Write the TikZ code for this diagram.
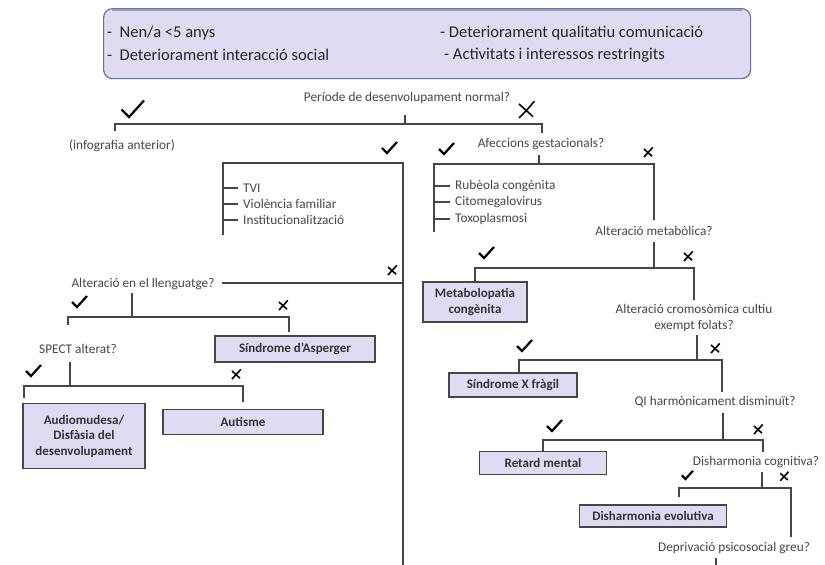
\documentclass[tikz,border=0pt]{standalone}
\usepackage{fontspec}
\setmainfont{Carlito}
\definecolor{lav}{RGB}{222,220,242}
\definecolor{lavborder}{RGB}{110,115,150}
\definecolor{txt}{RGB}{70,70,70}
\definecolor{ln}{RGB}{70,70,70}
\begin{document}
\begin{tikzpicture}[x=1pt,y=-1pt,
  q/.style={text=txt,font=\fontsize{13.3}{15.5}\selectfont,inner sep=0pt,align=center},
  item/.style={text=txt,font=\fontsize{13.3}{15.5}\selectfont,inner sep=0pt,anchor=west},
  res/.style={draw=ln,line width=1.2pt,fill=lav,font=\bfseries\fontsize{13}{15.5}\selectfont,text=black!80,align=center,inner sep=2pt},
  br/.style={draw=ln,line width=1.4pt},
  ttl/.style={anchor=west,font=\fontsize{16.5}{19}\selectfont,text=black!85,inner sep=0pt},
  chk/.pic={\draw[line width=2.2pt,line join=miter,black] (-7,-1) -- (-2,4) -- (8,-7);},
  crs/.pic={\draw[line width=1.6pt,black] (-5,-5) -- (5,4); \draw[line width=1.6pt,black] (-5,5) .. controls (0,0) .. (6,-7);}
]
\useasboundingbox (0,0) rectangle (825,565);
% top box
\node[draw=lavborder,line width=1.2pt,fill=lav,rounded corners=9pt,minimum width=647pt,minimum height=70pt,anchor=north west] (top) at (103,8) {};
\draw[lavborder!70,line width=2pt] ([xshift=9pt,yshift=-1.5pt]top.north west) -- ([xshift=-9pt,yshift=-1.5pt]top.north east);
\node[ttl] (t1) at (107,33) {-\ \ Nen/a <5 anys};
\node[ttl] (t2) at (107,55) {-\ \ Deteriorament\ interacció social};
\node[ttl] (t3) at (440,33) {- Deteriorament\ qualitatiu comunicació};
\node[ttl] (t4) at (444,55) {- Activitats i interessos restringits};

% level 1
\node[q] (q1) at (407,98) {Període de desenvolupament normal?};
\coordinate (q1s) at (405,115);
\coordinate (l1a) at (115,124);
\coordinate (l1b) at (542,124);
\draw[br] (q1s) -- (405,124);
\draw[br] (115,131) -- (l1a) -- (l1b) -- (542,133);
\pic[scale=1.5] at (132,111) {chk};
\pic[scale=1.4] at (526,111) {crs};
\node[q] (inf) at (122,146) {(infografia anterior)};

% middle bracket (social)
\pic at (389,149) {chk};
\coordinate (m1) at (223,163);
\coordinate (m2) at (403,163);
\draw[br] (223,235) -- (m1) -- (m2) -- (403,565);
\node[item] (tvi) at (243,188) {TVI};
\node[item] (vf) at (243,204) {Violència familiar};
\node[item] (ins) at (243,220) {Institucionalització};
\draw[br] (223,188) -- ([xshift=-5pt]tvi.west);
\draw[br] (223,204) -- ([xshift=-5pt]vf.west);
\draw[br] (223,220) -- ([xshift=-5pt]ins.west);

% Afeccions gestacionals
\node[q] (q2) at (541,144) {Afeccions gestacionals?};
\draw[br] (539,155) -- (539,164);
\draw[br] (434,232) -- (434,164) -- (654,164) -- (654,220);
\pic at (446,150) {chk};
\pic[scale=0.8] at (648,153) {crs};
\node[item] (rub) at (455,186) {Rubèola congènita};
\node[item] (cit) at (455,202) {Citomegalovirus};
\node[item] (tox) at (455,219) {Toxoplasmosi};
\draw[br] (434,186) -- ([xshift=-5pt]rub.west);
\draw[br] (434,202) -- ([xshift=-5pt]cit.west);
\draw[br] (434,219) -- ([xshift=-5pt]tox.west);

% Alteració metabòlica
\node[q] (q3) at (654,231) {Alteració metabòlica?};
\draw[br] (654,242) -- (654,268);
\node[res,minimum width=104pt,minimum height=40pt] (met) at (475,302) {Metabolopatia\\congènita};
\draw[br] (475,282) -- (475,268) -- (694,268) -- (694,300);
\pic at (486,254) {chk};
\pic[scale=0.8] at (688,257) {crs};

% Cromosòmica
\node[q] (q4) at (694,318) {Alteració cromosòmica cultiu\\exempt folats?};
\draw[br] (697,335) -- (697,360);
\node[res,minimum width=128pt,minimum height=24pt] (xf) at (513,385) {Síndrome X fràgil};
\draw[br] (519,373) -- (519,360) -- (722,360) -- (722,392);
\pic at (524,347) {chk};
\pic[scale=0.8] at (715,349) {crs};

% QI
\node[q] (q5) at (715,402) {QI harmònicament disminuït?};
\draw[br] (723,413) -- (723,440);
\node[res,minimum width=127pt,minimum height=23pt] (rm) at (543,463) {Retard mental};
\draw[br] (543,451) -- (543,440) -- (763,440) -- (763,452);
\pic at (554,427) {chk};
\pic[scale=0.8] at (758,430) {crs};

% Disharmonia cognitiva
\node[q] (q6) at (756,462) {Disharmonia cognitiva?};
\draw[br] (762,472) -- (762,488);
\node[res,minimum width=147pt,minimum height=22pt] (de) at (653,516) {Disharmonia evolutiva};
\draw[br] (679,497) -- (679,488) -- (791,488) -- (791,537);
\pic[scale=0.75] at (687,476) {chk};
\pic[scale=0.75] at (784,477) {crs};

% Deprivació
\node[q] (q7) at (734,548) {Deprivació psicosocial greu?};
\draw[br] (716,558) -- (716,566);

% Llenguatge
\node[q] (q8) at (143,284) {Alteració en el llenguatge?};
\draw[br] (222,283) -- (403,283);
\pic[scale=0.8] at (392,271) {crs};
\draw[br] (132,293) -- (132,317);
\draw[br] (68,325) -- (68,317) -- (289,317) -- (289,332);
\pic at (79,303) {chk};
\pic[scale=0.8] at (283,306) {crs};
\node[res,minimum width=160pt,minimum height=26pt] (asp) at (295,349) {Síndrome d'Asperger};

% SPECT
\node[q] (q9) at (78,349) {SPECT alterat?};
\draw[br] (70,362) -- (70,386);
\draw[br] (24,398) -- (24,386) -- (243,386) -- (243,402);
\pic at (33,372) {chk};
\pic[scale=0.8] at (236,375) {crs};
\node[res,minimum width=122pt,minimum height=65pt] (aud) at (84,436) {Audiomudesa/\\Disfàsia del\\desenvolupament};
\node[res,minimum width=160pt,minimum height=25pt] (aut) at (243,422) {Autisme};
\end{tikzpicture}
\end{document}
